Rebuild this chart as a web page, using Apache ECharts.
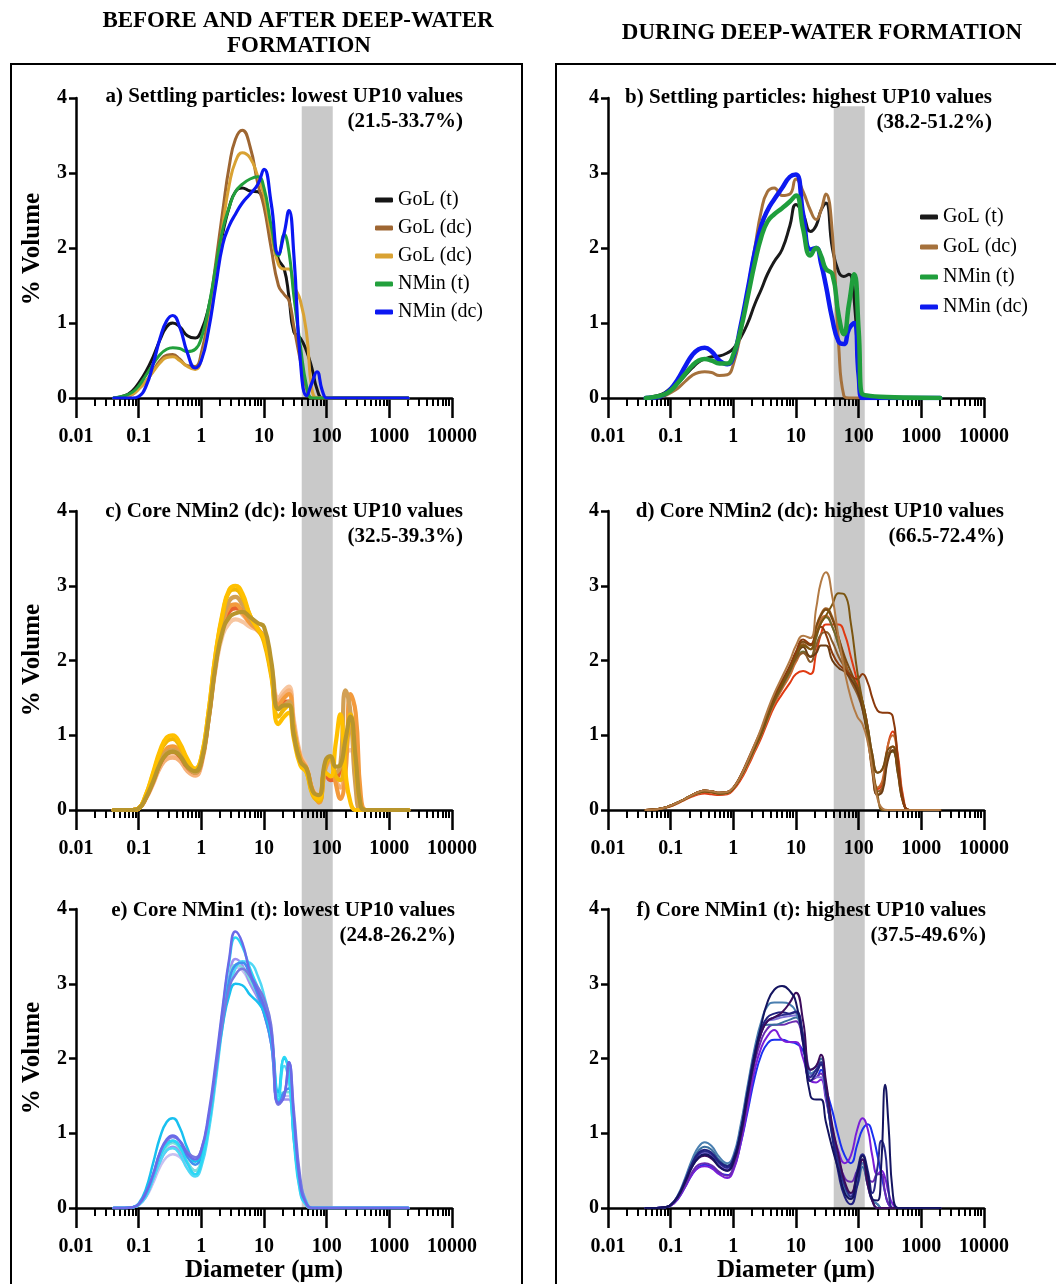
<!DOCTYPE html>
<html><head><meta charset="utf-8">
<script src="https://cdn.jsdelivr.net/npm/echarts@6/dist/echarts.min.js"></script>
<style>html,body{margin:0;padding:0;background:#fff}#c{width:1056px;height:1284px}</style>
</head><body><div id="c"></div>
<script>
// ---------- DATA ----------
const TICK_LABELS = [0.01, 0.1, 1, 10, 100, 1000, 10000];
const Y_TICKS = [0, 1, 2, 3, 4];
const BAND = [40, 125]; // grey fraction, µm

const XA = [0.04,0.06,0.08,0.1,0.13, 0.17,0.22,0.28,0.35,0.45, 0.6,0.8,1,1.3,1.7, 2.2,2.8,3.5,4.5,6, 8,10,13,17,21, 25,30,38,48,58, 70,85,100,115,2000];
const XC = [0.04,0.06,0.08,0.1,0.13, 0.17,0.22,0.28,0.35,0.45, 0.6,0.8,1,1.3,1.7, 2.2,2.8,3.5,4.5,6, 8,10,13,17,21, 25,30,38,48,60, 75,95,115,140,165, 200,240,290,350,420, 520,650,2000];
const XF = [0.04,0.06,0.08,0.1,0.13, 0.17,0.22,0.28,0.35,0.45, 0.6,0.8,1,1.3,1.7, 2.2,2.8,3.5,4.5,6, 8,10,13,17,21, 25,30,38,48,60, 75,95,115,140,165, 200,230,265,300,350, 420,520,650,2000];

// a) settling particles, lowest UP10
const A_GOL_T   = [0,0.03,0.1,0.2,0.35, 0.55,0.78,0.95,1.0,0.95, 0.83,0.8,0.9,1.2,1.7, 2.2,2.55,2.75,2.8,2.76, 2.75,2.6,2.2,1.85,1.72, 1.35,0.88,0.8,0.62,0.4, 0.12,0,0,0,0];
const A_GOL_DC1 = [0,0.01,0.05,0.12,0.22, 0.36,0.5,0.57,0.58,0.52, 0.43,0.42,0.6,1.1,1.8, 2.5,3.1,3.45,3.57,3.35, 2.85,2.55,2.0,1.5,1.38, 1.3,0.95,0.5,0.12,0, 0,0,0,0,0];
const A_GOL_DC2 = [0,0.01,0.05,0.12,0.22, 0.35,0.47,0.54,0.55,0.5, 0.42,0.38,0.52,0.95,1.6, 2.3,2.85,3.15,3.27,3.2, 2.95,2.7,2.2,1.78,1.72, 1.72,1.5,1.3,0.85,0.12, 0,0,0,0,0];
const A_NMIN_T  = [0,0.03,0.08,0.16,0.3, 0.45,0.58,0.65,0.67,0.66, 0.62,0.65,0.8,1.2,1.75, 2.25,2.55,2.75,2.85,2.92, 2.95,2.8,2.3,1.9,2.18, 1.95,1.35,0.7,0.15,0, 0,0,0,0,0];
const A_NMIN_DC = [0,0,0,0.02,0.15, 0.45,0.8,1.03,1.1,0.95, 0.6,0.4,0.5,0.9,1.5, 2.05,2.3,2.45,2.6,2.72, 2.85,3.05,2.6,1.92,2.2, 2.5,1.9,0.5,0.03,0.2, 0.35,0.1,0,0,0];

// b) settling particles, highest UP10
const B_GOL_T   = [0,0.03,0.07,0.13,0.2, 0.3,0.4,0.48,0.52,0.55, 0.56,0.6,0.66,0.8,1.0, 1.25,1.45,1.65,1.82,1.98, 2.3,2.58,2.45,2.22,2.3, 2.5,2.6,2.0,1.68,1.62, 1.65,1.3,0.3,0,0];
const B_GOL_DC  = [0,0.01,0.03,0.07,0.13, 0.22,0.3,0.34,0.35,0.34, 0.3,0.31,0.45,0.85,1.45, 2.0,2.5,2.75,2.8,2.7, 2.72,2.92,2.75,2.5,2.38, 2.5,2.72,2.2,0.7,0.03, 0,0,0,0,0];
const B_NMIN_T  = [0,0.02,0.05,0.1,0.2, 0.32,0.43,0.5,0.52,0.5, 0.46,0.46,0.58,0.9,1.35, 1.8,2.15,2.35,2.45,2.53, 2.62,2.7,2.25,1.9,2.0, 1.9,1.72,1.65,1.1,0.85, 1.25,1.65,0.9,0.05,0];
const B_NMIN_DC = [0,0.01,0.05,0.12,0.25, 0.42,0.57,0.65,0.67,0.62, 0.5,0.45,0.55,0.95,1.45, 1.95,2.3,2.5,2.65,2.8, 2.95,2.98,2.45,1.98,2.0, 1.8,1.5,1.05,0.75,0.72, 0.92,1.0,0.3,0,0];

// c) core NMin2 (dc), lowest UP10
const C1 = [0,0,0,0.02,0.2, 0.5,0.8,0.97,1.0,0.9, 0.68,0.55,0.7,1.3,2.1, 2.65,2.95,3.0,2.9,2.6, 2.42,2.3,1.85,1.15,1.25, 1.3,0.95,0.6,0.5,0.22, 0.15,0.5,0.45,0.9,1.28, 0.5,0.1,0,0,0, 0,0,0];
const C2 = [0,0,0,0.02,0.2, 0.48,0.77,0.92,0.95,0.86, 0.66,0.55,0.7,1.3,2.1, 2.62,2.92,2.95,2.85,2.6, 2.42,2.25,1.8,1.25,1.35, 1.4,1.05,0.65,0.5,0.2, 0.12,0.6,0.7,0.45,0.4, 0.8,1.28,0.6,0.05,0, 0,0,0];
const C3 = [0,0,0,0.02,0.18, 0.42,0.68,0.82,0.85,0.78, 0.6,0.5,0.66,1.25,2.0, 2.5,2.72,2.75,2.65,2.5, 2.4,2.28,1.85,1.4,1.5, 1.55,1.1,0.7,0.55,0.25, 0.1,0.55,0.7,0.35,0.15, 0.5,1.55,1.3,0.2,0, 0,0,0];
const C4 = [0,0,0,0.02,0.15, 0.37,0.6,0.72,0.75,0.7, 0.55,0.48,0.62,1.2,1.9, 2.35,2.5,2.55,2.52,2.45, 2.4,2.3,1.95,1.5,1.6, 1.65,1.2,0.75,0.58,0.28, 0.2,0.6,0.7,0.5,0.45, 0.75,0.8,0.4,0.05,0, 0,0,0];
const C5 = [0,0,0,0.02,0.17, 0.4,0.65,0.78,0.8,0.74, 0.58,0.5,0.65,1.25,2.0, 2.55,2.8,2.85,2.75,2.55, 2.42,2.3,1.85,1.35,1.4, 1.45,1.05,0.65,0.52,0.22, 0.12,0.6,0.7,0.5,0.6, 1.6,1.3,0.3,0,0, 0,0,0];
const C6 = [0,0,0,0.02,0.16, 0.38,0.62,0.75,0.78,0.73, 0.58,0.52,0.65,1.2,1.95, 2.4,2.58,2.63,2.65,2.58, 2.5,2.45,2.0,1.35,1.4, 1.4,1.0,0.65,0.55,0.25, 0.2,0.65,0.72,0.58,0.6, 0.95,1.25,0.7,0.05,0, 0,0,0];
const C7 = [0,0,0,0.02,0.15, 0.35,0.57,0.68,0.7,0.66, 0.52,0.46,0.6,1.2,1.95, 2.45,2.65,2.7,2.62,2.5, 2.4,2.3,1.9,1.45,1.55, 1.6,1.15,0.72,0.56,0.27, 0.18,0.55,0.65,0.4,0.3, 0.7,1.05,0.9,0.1,0, 0,0,0];
const C8 = [0,0,0,0.02,0.16, 0.38,0.62,0.75,0.78,0.72, 0.57,0.5,0.64,1.22,1.98, 2.48,2.66,2.7,2.68,2.55, 2.42,2.3,1.88,1.38,1.45, 1.45,1.05,0.68,0.54,0.24, 0.14,0.5,0.4,0.42,0.55, 0.9,1.1,0.5,0.05,0, 0,0,0];

// d) core NMin2 (dc), highest UP10
const D1 = [0,0.01,0.03,0.06,0.1, 0.15,0.2,0.24,0.26,0.25, 0.23,0.24,0.3,0.45,0.65, 0.85,1.05,1.28,1.5,1.7, 1.92,2.1,2.25,2.2,2.45, 2.6,2.68,2.55,2.3,2.05, 1.85,1.65,1.45,1.1,0.75, 0.5,0.55,0.8,0.85,0.5, 0.08,0,0];
const D2 = [0,0.01,0.03,0.05,0.09, 0.14,0.18,0.21,0.22,0.21, 0.2,0.21,0.27,0.4,0.58, 0.78,0.97,1.17,1.38,1.55, 1.7,1.82,1.86,1.82,2.1, 2.35,2.48,2.48,2.48,2.35, 2.05,1.72,1.45,1.1,0.6, 0.28,0.35,0.85,1.05,0.75, 0.15,0,0];
const D3 = [0,0.01,0.03,0.06,0.1, 0.15,0.2,0.24,0.26,0.25, 0.23,0.24,0.3,0.45,0.66, 0.88,1.1,1.33,1.56,1.78, 2.0,2.2,2.33,2.3,2.7, 3.05,3.18,2.85,2.3,1.85, 1.5,1.25,1.15,0.9,0.55, 0.15,0.02,0,0,0, 0,0,0];
const D4 = [0,0.01,0.03,0.06,0.1, 0.15,0.2,0.23,0.25,0.24, 0.22,0.23,0.29,0.44,0.64, 0.84,1.03,1.25,1.47,1.68, 1.88,2.05,2.2,2.15,2.35, 2.5,2.6,2.75,2.9,2.88, 2.5,1.85,1.45,1.0,0.6, 0.2,0,0,0,0, 0,0,0];
const D5 = [0,0.01,0.03,0.06,0.1, 0.15,0.2,0.24,0.26,0.25, 0.23,0.24,0.3,0.46,0.67, 0.88,1.08,1.3,1.52,1.73, 1.93,2.12,2.28,2.22,2.35, 2.45,2.35,2.1,1.95,1.88, 1.8,1.75,1.82,1.7,1.5, 1.33,1.3,1.3,1.25,0.7, 0.1,0,0];
const D6 = [0,0.01,0.03,0.06,0.1, 0.15,0.2,0.24,0.26,0.25, 0.23,0.24,0.3,0.45,0.65, 0.86,1.06,1.28,1.5,1.7, 1.9,2.08,2.22,2.15,2.45, 2.62,2.7,2.58,2.3,2.0, 1.75,1.6,1.4,1.0,0.5, 0.2,0.3,0.7,0.8,0.55, 0.1,0,0];
const D7 = [0,0.01,0.03,0.05,0.09, 0.14,0.19,0.22,0.24,0.23, 0.21,0.22,0.28,0.42,0.6, 0.8,1.0,1.2,1.42,1.62, 1.8,1.98,2.1,2.05,2.35, 2.55,2.6,2.45,2.2,1.95, 1.75,1.6,1.4,1.05,0.6, 0.3,0.4,0.85,1.0,0.7, 0.12,0,0];
const D8 = [0,0.01,0.03,0.06,0.1, 0.15,0.2,0.23,0.25,0.24, 0.22,0.23,0.29,0.44,0.63, 0.83,1.02,1.23,1.45,1.65, 1.85,2.02,2.12,2.05,2.3, 2.5,2.58,2.45,2.2,1.95, 1.8,1.65,1.45,1.1,0.75, 0.5,0.55,0.75,0.78,0.5, 0.08,0,0];
const D9 = [0,0.01,0.03,0.06,0.1, 0.15,0.2,0.24,0.25,0.24, 0.22,0.23,0.29,0.44,0.64, 0.84,1.03,1.25,1.47,1.68, 1.88,2.05,2.18,2.05,2.1, 2.2,2.2,2.0,1.9,1.85, 1.75,1.6,1.35,0.95,0.55, 0.2,0.25,0.65,0.8,0.55, 0.1,0,0];
const D10 = [0,0.01,0.03,0.06,0.1, 0.15,0.2,0.24,0.26,0.25, 0.23,0.24,0.3,0.45,0.65, 0.86,1.06,1.27,1.48,1.68, 1.88,2.02,2.1,1.98,2.2, 2.35,2.38,2.25,2.05,1.9, 1.72,1.55,1.35,1.0,0.6, 0.25,0.3,0.7,0.85,0.6, 0.1,0,0];

// e) core NMin1 (t), lowest UP10
const E1 = [0,0,0.01,0.06,0.25, 0.6,0.95,1.15,1.2,1.08, 0.8,0.62,0.7,1.1,1.8, 2.45,2.85,3.0,2.98,2.85, 2.75,2.62,2.3,1.55,2.0, 1.85,1.0,0.3,0.05,0, 0,0,0,0,0];
const E2 = [0,0,0.01,0.05,0.2, 0.45,0.75,0.92,0.97,0.9, 0.72,0.65,0.78,1.25,1.95, 2.7,3.35,3.7,3.55,3.15, 2.9,2.7,2.35,1.4,1.5, 1.95,1.2,0.3,0.05,0, 0,0,0,0,0];
const E3 = [0,0,0.01,0.05,0.18, 0.42,0.7,0.85,0.9,0.82, 0.6,0.45,0.6,1.1,1.85, 2.65,3.3,3.62,3.5,3.2, 2.95,2.75,2.3,1.45,2.02, 1.8,0.9,0.2,0.03,0, 0,0,0,0,0];
const E4 = [0,0,0.01,0.04,0.15, 0.38,0.62,0.77,0.82,0.76, 0.6,0.5,0.62,1.1,1.8, 2.55,3.1,3.33,3.25,3.0, 2.8,2.6,2.2,1.4,1.45, 1.45,0.9,0.25,0.03,0, 0,0,0,0,0];
const E5 = [0,0,0.01,0.04,0.14, 0.33,0.55,0.68,0.72,0.68, 0.55,0.45,0.58,1.05,1.75, 2.5,3.0,3.22,3.18,3.0, 2.82,2.62,2.2,1.45,1.5, 1.5,0.95,0.2,0.03,0, 0,0,0,0,0];
const E6 = [0,0,0.01,0.05,0.2, 0.45,0.75,0.9,0.95,0.9, 0.75,0.68,0.78,1.2,1.85, 2.5,2.95,3.12,3.2,3.1, 2.95,2.8,2.45,1.38,1.5, 1.95,1.3,0.4,0.05,0, 0,0,0,0,0];
const E7 = [0,0,0.01,0.04,0.16, 0.4,0.65,0.82,0.87,0.8, 0.62,0.5,0.62,1.1,1.8, 2.55,3.05,3.25,3.22,3.05, 2.85,2.65,2.25,1.5,1.55, 1.55,0.95,0.25,0.03,0, 0,0,0,0,0];
const E8 = [0,0,0.01,0.04,0.15, 0.38,0.62,0.77,0.8,0.72, 0.52,0.42,0.55,1.0,1.7, 2.45,2.95,3.2,3.3,3.28, 3.1,2.85,2.4,1.5,1.9, 1.7,0.95,0.35,0.08,0, 0,0,0,0,0];
const E9 = [0,0,0.01,0.05,0.18, 0.43,0.7,0.86,0.9,0.84, 0.68,0.58,0.7,1.15,1.85, 2.55,3.05,3.25,3.28,3.1, 2.85,2.6,2.2,1.42,1.55, 1.6,1.0,0.3,0.04,0, 0,0,0,0,0];

// f) core NMin1 (t), highest UP10
const F1 = [0,0,0.01,0.04,0.15, 0.35,0.55,0.68,0.72,0.68, 0.55,0.5,0.62,1.0,1.55, 2.05,2.45,2.75,2.92,2.97, 2.9,2.75,2.2,1.5,1.45, 1.45,1.15,0.8,0.5,0.2, 0.12,0.45,0.7,0.45,0.12, 0.1,0.6,1.65,1.1,0.2, 0,0,0,0];
const F2 = [0,0,0.01,0.04,0.15, 0.34,0.55,0.67,0.7,0.66, 0.55,0.5,0.6,0.95,1.5, 2.0,2.35,2.5,2.55,2.62, 2.75,2.88,2.5,1.85,1.9, 2.05,1.7,1.1,0.7,0.35, 0.2,0.45,0.65,0.3,0.1, 0,0,0,0,0, 0,0,0,0];
const F3 = [0,0,0.01,0.03,0.12, 0.28,0.45,0.54,0.56,0.53, 0.45,0.4,0.5,0.85,1.35, 1.85,2.15,2.3,2.38,2.25, 2.22,2.22,2.0,1.7,1.68, 1.72,1.45,1.05,0.75,0.6, 0.7,1.05,1.2,1.05,0.7, 0.45,0.5,0.4,0.2,0.05, 0,0,0,0];
const F4 = [0,0,0.01,0.03,0.12, 0.28,0.45,0.55,0.58,0.55, 0.47,0.44,0.52,0.85,1.3, 1.75,2.05,2.2,2.25,2.25, 2.22,2.2,2.1,1.8,1.75, 1.85,1.6,1.3,0.95,0.7, 0.6,0.85,1.05,1.12,1.0, 0.7,0.45,0.2,0.05,0, 0,0,0,0];
const F5 = [0,0,0.01,0.04,0.17, 0.4,0.65,0.82,0.88,0.83, 0.68,0.6,0.7,1.1,1.65, 2.15,2.5,2.7,2.75,2.75, 2.72,2.62,2.3,1.8,1.85, 1.95,1.55,0.95,0.55,0.25, 0.15,0.35,0.6,0.35,0.12, 0.05,0,0,0,0, 0,0,0,0];
const F6 = [0,0,0.01,0.04,0.16, 0.38,0.62,0.77,0.82,0.78, 0.64,0.57,0.67,1.05,1.6, 2.1,2.38,2.45,2.45,2.48, 2.52,2.55,2.3,1.85,1.9, 2.0,1.65,1.05,0.6,0.3, 0.2,0.3,0.55,0.3,0.1, 0.05,0,0,0,0, 0,0,0,0];
const F7 = [0,0,0.01,0.04,0.15, 0.36,0.58,0.72,0.76,0.72, 0.6,0.54,0.64,1.0,1.55, 2.05,2.35,2.5,2.55,2.58, 2.6,2.63,2.3,1.75,1.85, 1.95,1.6,1.0,0.6,0.3, 0.15,0.5,0.72,0.5,0.2, 0.55,0.9,0.75,0.25,0, 0,0,0,0];
const F8 = [0,0,0.01,0.03,0.13, 0.3,0.48,0.58,0.6,0.57, 0.48,0.43,0.54,0.9,1.45, 1.95,2.25,2.4,2.45,2.45, 2.48,2.5,2.2,1.7,1.75, 1.8,1.5,1.0,0.65,0.4, 0.35,0.5,0.6,0.4,0.35, 0.45,0.45,0.2,0.05,0, 0,0,0,0];
const F9 = [0,0,0.01,0.04,0.15, 0.35,0.56,0.7,0.74,0.7, 0.58,0.52,0.62,1.0,1.55, 2.05,2.35,2.5,2.52,2.55, 2.57,2.58,2.3,1.8,1.75, 1.75,1.5,1.0,0.6,0.3, 0.18,0.4,0.55,0.3,0.1, 0.05,0,0,0,0, 0,0,0,0];
const F10 = [0,0,0.01,0.04,0.16, 0.37,0.6,0.74,0.78,0.74, 0.62,0.56,0.66,1.02,1.58, 2.08,2.4,2.55,2.6,2.62, 2.6,2.62,2.25,1.7,1.8, 1.92,1.55,0.95,0.45,0.15, 0.05,0.3,0.65,0.4,0.1, 0,0,0,0,0, 0,0,0,0];

// ---------- CHART ----------
const SERIF = '"Liberation Serif","Times New Roman",serif';
const chart = echarts.init(document.getElementById('c'), null, {renderer: 'canvas'});
const errors = [];
const MINOR = [];
for (let e = -2; e < 4; e++) for (let k = 2; k < 10; k++) MINOR.push(Number((k * Math.pow(10, e)).toPrecision(2)));

const PANELS = [
  {left: 76,  top: 98,  height: 300},
  {left: 608, top: 98,  height: 300},
  {left: 76,  top: 511, height: 299},
  {left: 608, top: 511, height: 299},
  {left: 76,  top: 909, height: 299},
  {left: 608, top: 909, height: 299}
];
const fmt = v => String(Number(Number(v).toPrecision(6)));
const grids = [], xAxes = [], yAxes = [], series = [];
PANELS.forEach((p, i) => {
  grids.push({left: p.left, top: p.top, width: 376, height: p.height, containLabel: false, outerBoundsMode: 'none'});
  xAxes.push({type: 'log', logBase: 10, gridIndex: i, position: 'bottom', min: 0.01, max: 10000,
    axisLine: {show: true, onZero: false, lineStyle: {color: '#000', width: 2.5}},
    axisTick: {show: true, length: 20, customValues: TICK_LABELS, lineStyle: {color: '#000', width: 2.5}},
    axisLabel: {show: true, customValues: TICK_LABELS, formatter: fmt, margin: 29, color: '#000',
      fontFamily: SERIF, fontWeight: 'bold', fontSize: 20},
    splitLine: {show: false}, minorTick: {show: false}, minorSplitLine: {show: false}});
  xAxes.push({type: 'log', logBase: 10, gridIndex: i, position: 'bottom', min: 0.01, max: 10000,
    axisLine: {show: false},
    axisTick: {show: true, length: 8, customValues: MINOR, lineStyle: {color: '#000', width: 2}},
    axisLabel: {show: false}, splitLine: {show: false}});
  yAxes.push({type: 'value', gridIndex: i, min: 0, max: 4, interval: 1,
    axisLine: {show: true, onZero: false, lineStyle: {color: '#000', width: 2.5}},
    axisTick: {show: true, length: 7, lineStyle: {color: '#000', width: 2.5}},
    axisLabel: {margin: 9, color: '#000', fontFamily: SERIF, fontWeight: 'bold', fontSize: 20},
    splitLine: {show: false}});
});

function line(panel, name, xs, ys, color, width) {
  if (xs.length !== ys.length) errors.push(name + ' ' + ys.length + '/' + xs.length);
  series.push({type: 'line', name: name, xAxisIndex: 2 * panel, yAxisIndex: panel,
    data: xs.map((x, k) => [x, ys[k]]), smooth: 0.5, symbol: 'none', showSymbol: false,
    lineStyle: {color: color, width: width, cap: 'round', join: 'round'},
    itemStyle: {color: color}, emphasis: {disabled: true}, silent: true, z: 3, animation: false});
}
// a
line(0, 'a|GoL (t)',   XA, A_GOL_T,   '#151515', 3);
line(0, 'a|GoL (dc)',  XA, A_GOL_DC1, '#9e6632', 3);
line(0, 'a|GoL (dc)#', XA, A_GOL_DC2, '#d9a233', 3);
line(0, 'a|NMin (t)',  XA, A_NMIN_T,  '#22a03c', 3);
line(0, 'a|NMin (dc)', XA, A_NMIN_DC, '#0b17f2', 3.2);
// b
line(1, 'b|GoL (t)',   XA, B_GOL_T,   '#1a1a1a', 3);
line(1, 'b|GoL (dc)',  XA, B_GOL_DC,  '#a5713c', 3);
line(1, 'b|NMin (dc)', XA, B_NMIN_DC, '#0d1af0', 4.5);
line(1, 'b|NMin (t)',  XA, B_NMIN_T,  '#1f9e3c', 4.5);
// c
[[C4,'#f7c6a0'],[C7,'#f6b27a'],[C8,'#e8622c'],[C3,'#f39a3c'],[C5,'#d2a054'],[C2,'#f2b705'],[C1,'#ffc000'],[C6,'#b8952c']]
  .forEach((d, k) => line(2, 'c' + k, XC, d[0], d[1], 4.2));
// d
[[D2,'#e03a12'],[D7,'#c86a30'],[D8,'#6b6a30'],[D10,'#8a5a2a'],[D6,'#9a5a20'],[D9,'#6b3d14'],[D1,'#7a4a12'],[D5,'#8b3a0c'],[D4,'#7b5510'],[D3,'#b27a44']]
  .forEach((d, k) => line(3, 'd' + k, XC, d[0], d[1], 2));
// e
[[E5,'#c8c0f0'],[E4,'#a090f0'],[E7,'#7ee0d8'],[E8,'#50d8f5'],[E9,'#4090f0'],[E1,'#18c0f0'],[E3,'#2ad8f5'],[E6,'#7878e0'],[E2,'#6a6ae8']]
  .forEach((d, k) => line(4, 'e' + k, XA, d[0], d[1], 2.5));
// f
[[F4,'#1a30f0'],[F3,'#7a1ed8'],[F8,'#6a2ab0'],[F9,'#8070d8'],[F6,'#3a6e9e'],[F5,'#4a7fb0'],[F7,'#2a2a8a'],[F10,'#202080'],[F2,'#3c0c5c'],[F1,'#141460']]
  .forEach((d, k) => line(5, 'f' + k, XF, d[0], d[1], 2));

const legendBase = {orient: 'vertical', itemWidth: 18, itemHeight: 5, icon: 'roundRect', selectedMode: false,
  textStyle: {fontFamily: SERIF, fontSize: 20, color: '#000'}, formatter: n => n.split('|')[1].replace('#', '')};
chart.setOption({
  animation: false,
  backgroundColor: '#fff',
  grid: grids, xAxis: xAxes, yAxis: yAxes, series: series,
  legend: [
    Object.assign({}, legendBase, {left: 370, top: 185, itemGap: 8,
      data: ['a|GoL (t)', 'a|GoL (dc)', 'a|GoL (dc)#', 'a|NMin (t)', 'a|NMin (dc)']}),
    Object.assign({}, legendBase, {left: 915, top: 202, itemGap: 10,
      data: ['b|GoL (t)', 'b|GoL (dc)', 'b|NMin (t)', 'b|NMin (dc)']})
  ]
});

// ---------- annotations ----------
const els = [];
function txt(t, x, y, font, align, extra) {
  els.push(Object.assign({type: 'text', z: 20, style: {text: t, x: x, y: y, font: font, fill: '#000',
    align: align || 'center', verticalAlign: 'middle'}}, extra || {}));
}
const HF = 'bold 23px ' + SERIF, TF = 'bold 21px ' + SERIF, AF = 'bold 25px ' + SERIF;
txt('BEFORE AND AFTER DEEP-WATER', 298, 21, HF);
txt('FORMATION', 299, 46, HF);
txt('DURING DEEP-WATER FORMATION', 822, 33, HF);
els.push({type: 'rect', z: 20, shape: {x: 11, y: 64, width: 511, height: 1300}, style: {fill: 'none', stroke: '#000', lineWidth: 2}});
els.push({type: 'rect', z: 20, shape: {x: 556, y: 64, width: 600, height: 1300}, style: {fill: 'none', stroke: '#000', lineWidth: 2}});
const TITLES = [
  ['a) Settling particles: lowest UP10 values', '(21.5-33.7%)', 463, 97],
  ['b) Settling particles: highest UP10 values', '(38.2-51.2%)', 992, 98],
  ['c) Core NMin2 (dc): lowest UP10 values', '(32.5-39.3%)', 463, 512],
  ['d) Core NMin2 (dc): highest UP10 values', '(66.5-72.4%)', 1004, 512],
  ['e) Core NMin1 (t): lowest UP10 values', '(24.8-26.2%)', 455, 911],
  ['f) Core NMin1 (t): highest UP10 values', '(37.5-49.6%)', 986, 911]
];
TITLES.forEach(t => { txt(t[0], t[2], t[3], TF, 'right'); txt(t[1], t[2], t[3] + 25, TF, 'right'); });
[249, 660, 1058].forEach(y => txt('% Volume', 33, y, AF, 'center', {rotation: Math.PI / 2, x: 33, y: y, style: {text: '% Volume', x: 0, y: 0, font: AF, fill: '#000', align: 'center', verticalAlign: 'middle'}}));
txt('Diameter (µm)', 264, 1271, AF);
txt('Diameter (µm)', 796, 1271, AF);

// grey band from the data limits
const bandTop = chart.convertToPixel({yAxisIndex: 0}, 3.89);
const bandBottom = chart.convertToPixel({yAxisIndex: 4}, 0);
[0, 2].forEach(ax => {
  const x0 = chart.convertToPixel({xAxisIndex: ax}, BAND[0]);
  const x1 = chart.convertToPixel({xAxisIndex: ax}, BAND[1]);
  els.push({type: 'rect', z: -1, shape: {x: x0, y: bandTop, width: x1 - x0, height: bandBottom - bandTop},
    style: {fill: '#c9c9c9'}});
});
if (errors.length) txt('LEN ERR: ' + errors.join(', '), 528, 8, 'bold 12px sans-serif', 'center', {style: {text: 'LEN ERR: ' + errors.join(', '), x: 528, y: 8, fill: 'red', font: 'bold 12px sans-serif', align: 'center'}});
chart.setOption({graphic: {elements: els}});
</script>
</body></html>
